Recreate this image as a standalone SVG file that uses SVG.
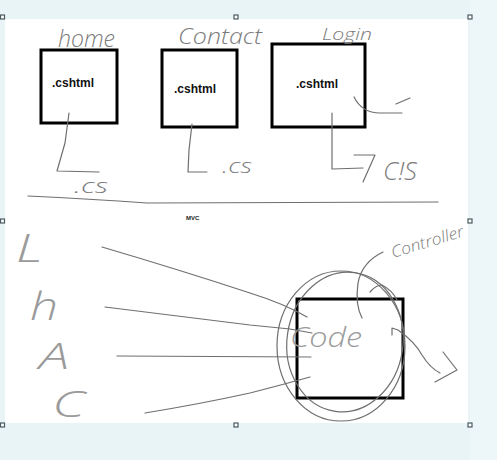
<svg xmlns="http://www.w3.org/2000/svg" width="497" height="460" viewBox="0 0 497 460">
<defs>
<style>
.bg{fill:#e9f4f7}
.canvas{fill:#ffffff}
.handle{fill:#ffffff;stroke:#4a5a60;stroke-width:1.2}
.box{fill:#ffffff;stroke:#000000;stroke-width:3}
.lbl{font-family:"Liberation Sans",Arial,sans-serif;font-weight:bold;font-size:12px;fill:#111}
.ink{fill:none;stroke:#6f6f6f;stroke-width:1.2;stroke-linecap:round;stroke-linejoin:round}
.hand{font-family:"Open Sans","DejaVu Sans","Liberation Sans",sans-serif;font-weight:300;fill:#7c7c7c;font-style:italic}
.big{fill:#9a9a9a}
</style>
</defs>
<rect class="bg" x="0" y="0" width="497" height="460"/>
<rect x="470" y="0" width="27" height="460" fill="#edf6f9"/>
<rect class="canvas" x="5" y="19" width="463" height="404"/>
<g id="handles">
<rect class="handle" x="0.5" y="15" width="4" height="4"/>
<rect class="handle" x="234" y="15" width="4" height="4"/>
<rect class="handle" x="468" y="15" width="4" height="4"/>
<rect class="handle" x="0.5" y="219" width="4" height="4"/>
<rect class="handle" x="468" y="219" width="4" height="4"/>
<rect class="handle" x="0.5" y="423" width="4" height="4"/>
<rect class="handle" x="234" y="423" width="4" height="4"/>
<rect class="handle" x="468" y="423" width="4" height="4"/>
</g>

<g id="home-page">
<rect class="box" x="41" y="50" width="76" height="73"/>
<text class="lbl" x="52" y="87">.cshtml</text>
<text class="hand" x="58" y="47" font-size="24" textLength="57" lengthAdjust="spacingAndGlyphs">home</text>
<text class="hand" x="74" y="193" font-size="20" textLength="34" lengthAdjust="spacingAndGlyphs">.cs</text>
</g>
<g id="contact-page">
<rect class="box" x="162" y="50" width="75" height="77"/>
<text class="lbl" x="174" y="93">.cshtml</text>
<text class="hand" x="178" y="44" font-size="22" textLength="84" lengthAdjust="spacingAndGlyphs">Contact</text>
<text class="hand" x="222" y="173" font-size="20" textLength="30" lengthAdjust="spacingAndGlyphs">.cs</text>
</g>
<g id="login-page">
<rect class="box" x="272" y="44" width="93" height="83"/>
<text class="lbl" x="296" y="88">.cshtml</text>
<text class="hand" x="322" y="40" font-size="17" textLength="50" lengthAdjust="spacingAndGlyphs">Login</text>
<text class="hand" x="383" y="180" font-size="26" textLength="34" lengthAdjust="spacingAndGlyphs">C!S</text>
</g>
<g id="mvc-title">
<text x="186" y="220" font-family="Liberation Sans,Arial,sans-serif" font-weight="bold" font-size="6" fill="#222">MVC</text>
</g>
<g id="letters">
<text class="hand big" x="16" y="262" font-size="38" textLength="27" lengthAdjust="spacingAndGlyphs">L</text>
<text class="hand big" x="30" y="320" font-size="38" textLength="28" lengthAdjust="spacingAndGlyphs">h</text>
<text class="hand big" x="39" y="369" font-size="36" textLength="30" lengthAdjust="spacingAndGlyphs">A</text>
<text class="hand big" x="52" y="417" font-size="36" textLength="33" lengthAdjust="spacingAndGlyphs">C</text>
</g>
<g id="controller">
<rect class="box" x="297" y="299" width="106" height="99"/>
<text class="hand big" x="290" y="347" font-size="28" textLength="72" lengthAdjust="spacingAndGlyphs">Code</text>
<text class="hand" x="393" y="258" font-size="16" textLength="75" lengthAdjust="spacingAndGlyphs" transform="rotate(-17 393 258)">Controller</text>
</g>

<g id="connectors">
<path class="ink" d="M69,113 L65,143 L57,171 L99,172"/>
<path class="ink" d="M192,124 L189,150 L188,172 L207,172"/>
<path class="ink" d="M332,113 L332,169 L363,168"/>
<path class="ink" d="M354,155 L375,155 L363,182"/>
<path class="ink" d="M354,97 Q362,113 380,113 L402,113"/>
<path class="ink" d="M396,104 L410,98"/>
<path class="ink" d="M28,196 Q90,199 147,203 L438,202"/>
<path class="ink" d="M102,247 Q180,270 250,293 Q285,304 307,317"/>
<path class="ink" d="M105,307 L250,325 L290,329 L312,333"/>
<path class="ink" d="M117,356 L311,357"/>
<path class="ink" d="M145,413 Q200,404 250,393 Q285,384 310,377"/>
<path class="ink" d="M383,252 Q362,262 358,283 Q355,305 362,318"/>
<path class="ink" d="M370,292 Q376,285 382,285 Q392,290 397,300"/>
<path class="ink" d="M392,335 L392,328 L398,330 Q415,342 422,355 Q430,368 440,373"/>
<path class="ink" d="M443,352 L457,370 L435,382"/>
<ellipse class="ink" cx="341" cy="346" rx="64" ry="75"/>
<ellipse class="ink" cx="345" cy="342" rx="58" ry="70" transform="rotate(8 345 342)"/>
</g>
</svg>
